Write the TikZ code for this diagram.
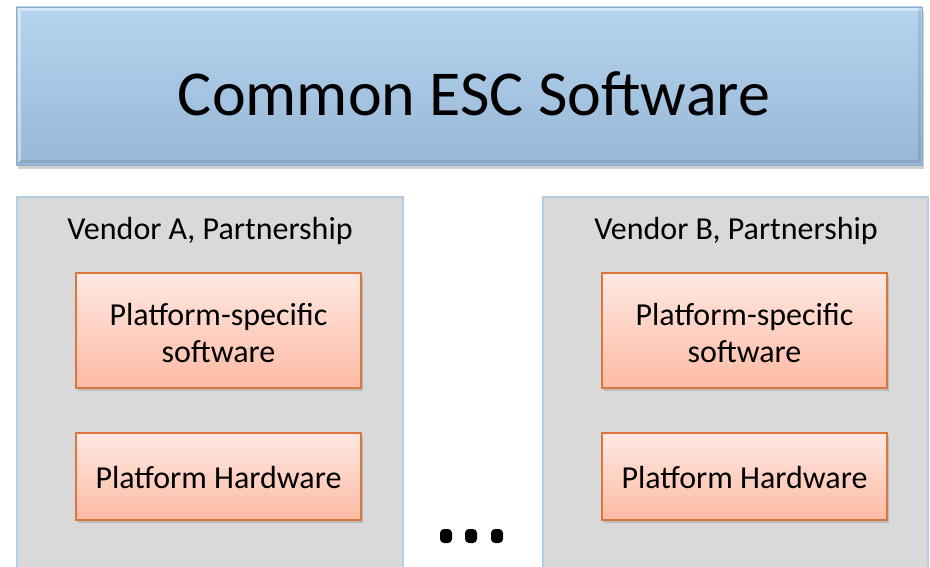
\documentclass[tikz,border=0pt]{standalone}
\usepackage{fontspec}
\setmainfont{Carlito}
\usetikzlibrary{shadows}
\definecolor{topA}{HTML}{B5D4EF}
\definecolor{topB}{HTML}{98B7D6}
\definecolor{topEdge}{HTML}{8EAAC6}
\definecolor{vendorFill}{HTML}{D9D9D9}
\definecolor{vendorEdge}{HTML}{B4CCE4}
\definecolor{orA}{HTML}{FFE8E2}
\definecolor{orB}{HTML}{FDBBA4}
\definecolor{orEdge}{HTML}{D9773E}
\tikzset{
  banner/.style={draw=topEdge, line width=0.8pt, top color=topA, bottom color=topB,
    drop shadow={shadow xshift=2pt, shadow yshift=-4pt, opacity=0.3, fill=black!60}},
  vendorbox/.style={draw=vendorEdge, line width=1.2pt, fill=vendorFill},
  layerbox/.style={draw=orEdge, line width=1.2pt, top color=orA, bottom color=orB,
    drop shadow={shadow xshift=1.5pt, shadow yshift=-3pt, opacity=0.25, fill=black!60}},
  boxtext/.style={align=center, font=\fontsize{32}{37}\selectfont},
  vendorlabel/.style={font=\fontsize{32}{37}\selectfont},
}
\begin{document}
\begin{tikzpicture}[x=1pt,y=-1pt]
  \useasboundingbox (0,0) rectangle (930,567);
  \fill[white] (0,0) rectangle (930,567);

  % shared software layer
  \path[banner] (16,7) rectangle (922,165);
  \draw[white, opacity=0.45, line width=3pt] (19,162) -- (19,10) -- (919,10);
  \draw[black, opacity=0.10, line width=3pt] (19,162) -- (919,162) -- (919,10);
  \node (esc) at (474,94) {\fontsize{64}{72}\selectfont Common ESC Software};

  % vendor partnerships
  \draw[vendorbox] (17,197) rectangle (403,575);
  \draw[vendorbox] (543,197) rectangle (928,575);
  \node[vendorlabel] (va) at (210,231) {Vendor A, Partnership};
  \node[vendorlabel] (vb) at (736,231) {Vendor B, Partnership};

  % platform layers
  \path[layerbox] (76,273) rectangle (361,388);
  \node[boxtext] (swa) at (218.5,333) {Platform-specific\\software};
  \path[layerbox] (76,433) rectangle (361,520);
  \node[boxtext] (hwa) at (218.5,478) {Platform Hardware};

  \path[layerbox] (602,273) rectangle (887,388);
  \node[boxtext] (swb) at (744.5,333) {Platform-specific\\software};
  \path[layerbox] (602,433) rectangle (887,520);
  \node[boxtext] (hwb) at (744.5,478) {Platform Hardware};

  % ellipsis between vendors
  \foreach \x in {446,471,497}
    \fill[black, rounded corners=4pt] (\x-6,529) rectangle (\x+6,543);
\end{tikzpicture}
\end{document}
